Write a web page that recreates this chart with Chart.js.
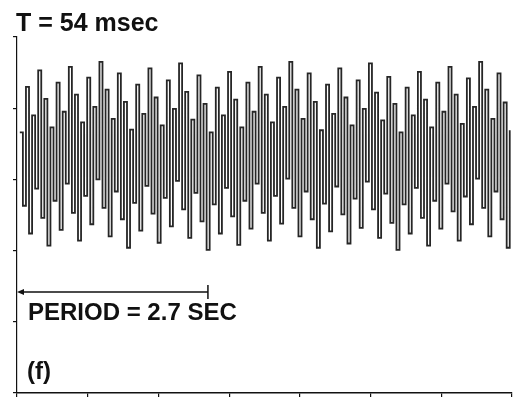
<!DOCTYPE html>
<html>
<head>
<meta charset="utf-8">
<script src="https://cdn.jsdelivr.net/npm/chart.js@4"></script>
<style>
  html, body { margin: 0; padding: 0; background: #fff; }
  canvas { display: block; }
</style>
</head>
<body>
<canvas id="trace" width="517" height="403"></canvas>
<script>
// sampled output, held between samples; upper and lower excursions alternate
const peaks = [
  1.66, 2.30, 1.90, 2.53, 2.13, 1.73, 2.36, 1.95, 2.58, 2.19,
  1.80, 2.43, 2.02, 2.65, 2.26, 1.85, 2.49, 2.09, 1.70, 2.33,
  1.92, 2.56, 2.15, 1.76, 2.39, 1.99, 2.63, 2.23, 1.84, 2.46,
  2.06, 1.66, 2.29, 1.90, 2.51, 2.12, 1.73, 2.36, 1.95, 2.58,
  2.19, 1.80, 2.43, 2.02, 2.65, 2.26, 1.85, 2.49, 2.09, 1.69,
  2.33, 1.92, 2.56, 2.15, 1.76, 2.39, 1.99, 2.63, 2.22, 1.83,
  2.44, 2.06, 1.66, 2.29, 1.90, 2.51, 2.12, 1.73, 2.36, 1.95,
  2.58, 2.19, 1.78, 2.42, 2.02, 2.65, 2.26, 1.85, 2.49, 2.08,
  1.69
];
const troughs = [
  0.63, 0.24, 0.87, 0.46, 0.07, 0.70, 0.29, 0.94, 0.53, 0.14,
  0.77, 0.37, 1.00, 0.60, 0.20, 0.83, 0.44, 0.04, 0.67, 0.28,
  0.91, 0.52, 0.11, 0.74, 0.34, 0.98, 0.58, 0.18, 0.81, 0.41,
  0.01, 0.65, 0.24, 0.88, 0.48, 0.08, 0.70, 0.31, 0.94, 0.53,
  0.14, 0.77, 0.38, 1.01, 0.60, 0.20, 0.83, 0.44, 0.04, 0.66,
  0.27, 0.90, 0.51, 0.10, 0.73, 0.32, 0.97, 0.58, 0.18, 0.80,
  0.39, 0.01, 0.65, 0.24, 0.88, 0.46, 0.07, 0.70, 0.31, 0.94,
  0.55, 0.14, 0.76, 0.37, 1.01, 0.60, 0.20, 0.83, 0.44, 0.04
];
const xTicks = [0, 1, 2, 3, 4, 5, 6, 7];
const yTicks = [-2, -1, 0, 1, 2, 3];
const START = 0.04;      // sec
const STEP = 0.0433;     // sec between plotted samples
const PERIOD = 2.7;      // sec
const PERIOD_LEVEL = -0.58;

const samples = [];
peaks.forEach(function (p, i) {
  samples.push(p);
  if (i < troughs.length) samples.push(troughs[i]);
});
const points = samples.map(function (v, i) {
  return { x: START + i * STEP, y: v };
});

const ink = '#111';

// text and the period marker
const notes = {
  id: 'notes',
  afterDraw(chart) {
    const ctx = chart.ctx;
    const xs = chart.scales.x, ys = chart.scales.y;
    ctx.save();
    ctx.fillStyle = ink;
    ctx.strokeStyle = ink;
    ctx.textBaseline = 'alphabetic';
    ctx.font = 'bold 25px "Liberation Sans", Arial, sans-serif';
    ctx.fillText('T = 54 msec', 16, 31);
    ctx.font = 'bold 24px "Liberation Sans", Arial, sans-serif';
    ctx.fillText('PERIOD = 2.7 SEC', 28, 320);
    ctx.fillText('(f)', 27, 379);

    const x0 = xs.getPixelForValue(0), x1 = xs.getPixelForValue(PERIOD);
    const y = ys.getPixelForValue(PERIOD_LEVEL);
    ctx.lineWidth = 1.5;
    ctx.beginPath();
    ctx.moveTo(x0 + 4, y);
    ctx.lineTo(x1, y);
    ctx.moveTo(x1, y - 7);
    ctx.lineTo(x1, y + 7);
    ctx.stroke();
    ctx.beginPath();
    ctx.moveTo(x0, y);
    ctx.lineTo(x0 + 7, y - 3);
    ctx.lineTo(x0 + 7, y + 3);
    ctx.closePath();
    ctx.fill();
    ctx.restore();
  }
};

new Chart(document.getElementById('trace'), {
  type: 'line',
  data: {
    datasets: [{
      data: points,
      stepped: true,
      borderColor: '#262626',
      borderWidth: 1.8,
      pointRadius: 0,
      fill: false
    }]
  },
  options: {
    responsive: false,
    animation: false,
    layout: { padding: { left: 13, right: 5, top: 37, bottom: 6 } },
    plugins: { legend: { display: false }, tooltip: { enabled: false }, title: { display: false } },
    scales: {
      x: {
        type: 'linear',
        min: 0,
        max: 7,
        afterBuildTicks: function (s) { s.ticks = xTicks.map(function (v) { return { value: v }; }); },
        afterFit: function (s) { s.height = 4; },
        ticks: { display: false },
        grid: { drawOnChartArea: false, drawTicks: true, tickLength: 4, color: ink, lineWidth: 1.2 },
        border: { display: true, color: ink, width: 1.4 }
      },
      y: {
        min: -2,
        max: 3,
        afterBuildTicks: function (s) { s.ticks = yTicks.map(function (v) { return { value: v }; }); },
        afterFit: function (s) { s.width = 4; },
        ticks: { display: false },
        grid: { drawOnChartArea: false, drawTicks: true, tickLength: 4, color: ink, lineWidth: 1.2 },
        border: { display: true, color: ink, width: 1.2 }
      }
    }
  },
  plugins: [notes]
});
</script>
</body>
</html>
